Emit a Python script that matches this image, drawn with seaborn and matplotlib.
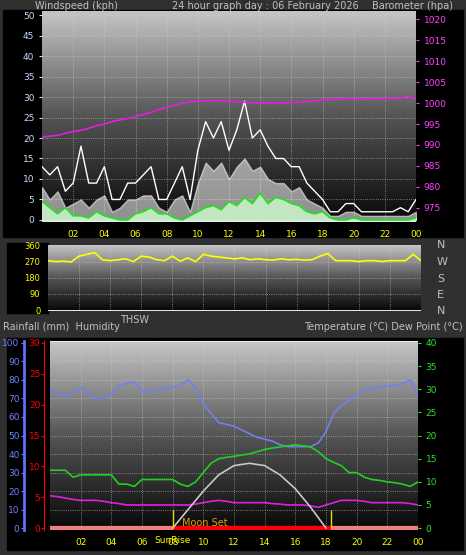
import numpy as np
import pandas as pd
import matplotlib
matplotlib.use("Agg")
import matplotlib.pyplot as plt
import seaborn as sns
from matplotlib.patches import Rectangle
from matplotlib.colors import LinearSegmentedColormap

sns.set_style("dark")
plt.rcParams['font.family'] = ['DejaVu Sans']

# ---- data (hours 0..24) ----
half_hours = np.arange(0, 24.5, 0.5)
gust = [13, 11, 13, 7, 9, 18, 9, 9, 13, 5, 5, 9, 9, 11, 13, 5, 5, 9, 13, 5,
        17, 24, 20, 24, 17, 22, 29, 20, 22, 18, 15, 15, 13, 13, 9, 7, 5, 2, 2, 4,
        4, 2, 2, 2, 2, 2, 3, 2, 5]
speed = [8, 5, 7, 3, 4, 5, 3, 5, 6, 2, 3, 5, 5, 6, 6, 3, 2, 5, 6, 2,
         9, 14, 12, 14, 10, 13, 15, 12, 13, 10, 9, 9, 7, 8, 5, 4, 3, 1, 1, 2,
         2, 1, 1, 1, 1, 1, 1, 1, 2]
avg_wind = [4.5, 3, 1.5, 3, 1, 1, 0.5, 2, 1, 0.5, 0, 0, 1.5, 2, 3, 1.5, 1.5, 0.5, 0, 1,
            2, 3, 3.5, 2.5, 4.5, 3.5, 5.5, 4, 6.5, 4, 5.5, 5, 4, 3.5, 2, 1.5, 2, 0.5, 0, 0,
            0.5, 0, 0, 0, 0, 0, 0, 0, 0.5]
baro = [991.9, 992.1, 992.3, 992.8, 993.2, 993.5, 994.0, 994.6, 995.0, 995.6,
        996.0, 996.3, 996.8, 997.3, 997.8, 998.5, 999.0, 999.5, 1000.0, 1000.3,
        1000.5, 1000.5, 1000.6, 1000.6, 1000.5, 1000.3, 1000.2, 1000.1, 1000.0, 1000.1,
        1000.0, 1000.0, 1000.1, 1000.2, 1000.4, 1000.5, 1000.7, 1000.9, 1001.0, 1001.1,
        1001.1, 1001.0, 1001.0, 1001.0, 1001.1, 1001.1, 1001.2, 1001.7, 1001.0]
wind_dir = [275, 270, 272, 268, 300, 310, 320, 280, 275, 280, 285, 270, 300, 295, 280, 275,
            300, 272, 290, 270, 310, 300, 295, 290, 285, 290, 280, 285, 280, 278, 285, 280,
            282, 278, 280, 300, 315, 275, 275, 275, 270, 275, 275, 270, 275, 275, 275, 310, 275]
humidity = [75, 72, 71, 73, 76, 72, 70, 70, 72, 77, 78, 79, 74, 74, 75, 75, 76, 77, 80, 76,
            67, 62, 57, 56, 55, 53, 51, 49, 48, 47, 45, 44, 44, 44, 44, 46, 52, 62, 66, 69,
            72, 75, 75, 76, 77, 77, 78, 80, 72]
temperature = [12.5, 12.5, 12.5, 11, 11.5, 11.5, 11.5, 11.5, 11.5, 9.5, 9.5, 9, 10.5, 10.5, 10.5, 10.5,
               10.5, 9.5, 9, 10, 12, 14, 15, 15.3, 15.5, 15.8, 16, 16.5, 17, 17.3, 17.5, 17.8,
               18, 17.8, 17.5, 16.5, 15, 14.2, 13.5, 12, 12, 11, 10.5, 10.3, 10, 9.8, 9.5, 9, 10]
dew_point = [7, 6.8, 6.5, 6.2, 6, 6, 6, 5.8, 5.5, 5.3, 5, 5, 5, 5, 5, 5, 5, 5, 5, 5.2,
             5.5, 5.8, 6, 5.8, 5.5, 5.5, 5.5, 5.5, 5.5, 5.3, 5.2, 5, 5, 5, 4.8, 4.5, 5, 5.5, 6, 6,
             6, 5.8, 5.5, 5.5, 5.5, 5.5, 5.5, 5.3, 5]
solar_hours = [8, 9, 10, 11, 12, 13, 14, 15, 16, 17, 18]
solar = [0, 4, 8, 11.5, 13.5, 14, 13.5, 11.5, 8.5, 4.5, 0]
sunrise, sunset = 8.0, 18.3
hour_ticks = [2, 4, 6, 8, 10, 12, 14, 16, 18, 20, 22, 24]
hour_labels = ['02', '04', '06', '08', '10', '12', '14', '16', '18', '20', '22', '00']

W, H = 466, 555
fig = plt.figure(figsize=(W / 100, H / 100), dpi=100)
fig.patch.set_facecolor('#303030')
bg_cmap = LinearSegmentedColormap.from_list('bg', ['#0a0a0a', '#555555', '#c4c4c4'])
FS = 6.5


def px_axes(x0, y0, x1, y1):
    return fig.add_axes([x0 / W, 1 - y1 / H, (x1 - x0) / W, (y1 - y0) / H])


def black_box(x0, y0, x1, y1):
    fig.patches.append(Rectangle((x0 / W, 1 - y1 / H), (x1 - x0) / W, (y1 - y0) / H,
                                 transform=fig.transFigure, color='black', zorder=-1))


def gradient(ax, ylo, yhi):
    ax.imshow(np.linspace(0, 1, 100)[:, None], extent=(0, 24, ylo, yhi), origin='lower',
              aspect='auto', cmap=bg_cmap, zorder=0)
    ax.grid(True, color='#d0d0d0', ls=':', lw=0.6, alpha=0.7)
    for s in ax.spines.values():
        s.set_visible(False)


def xhours(ax, show=True):
    ax.set_xlim(0, 24)
    ax.set_xticks(hour_ticks)
    ax.set_xticklabels(hour_labels if show else [], color='yellow', fontsize=FS)
    ax.tick_params(axis='x', colors='yellow', length=2)


# ---- top panel: wind and barometer ----
black_box(3, 10, 463, 237)
ax1 = px_axes(42, 11, 416, 222)
gradient(ax1, 0, 51)
ax1.set_ylim(-0.5, 51)
df_w = pd.DataFrame({'h': half_hours, 'gust': gust, 'speed': speed, 'avg': avg_wind})
ax1.fill_between(df_w.h, 0, df_w.speed, color='white', alpha=0.55, zorder=2)
ax1.fill_between(df_w.h, 0, df_w.avg, color='#c8f0c8', alpha=0.9, zorder=3)
sns.lineplot(data=df_w, x='h', y='gust', color='white', lw=1, ax=ax1, zorder=3)
sns.lineplot(data=df_w, x='h', y='avg', color='#20e020', lw=1.2, ax=ax1, zorder=4)
ax1.set_yticks(range(0, 51, 5))
ax1.tick_params(axis='y', colors='#c8dcff', labelsize=FS, length=2)
xhours(ax1)
ax1.set_xlabel('')
ax1.set_ylabel('')
ax1b = ax1.twinx()
ax1b.set_ylim(971.6, 1022)
sns.lineplot(x=half_hours, y=baro, color='#e020e0', lw=1.2, ax=ax1b)
ax1b.set_yticks(range(975, 1021, 5))
ax1b.tick_params(axis='y', colors='#ff40ff', labelsize=FS, length=2)
for s in ax1b.spines.values():
    s.set_visible(False)
fig.text(35 / W, 1 - 6 / H, 'Windspeed (kph)', color='#c0c0c0', fontsize=7, va='center')
fig.text(172 / W, 1 - 6 / H, '24 hour graph day : 06 February 2026', color='#c0c0c0', fontsize=7, va='center')
fig.text(372 / W, 1 - 6 / H, 'Barometer (hpa)', color='#c0c0c0', fontsize=7, va='center')

# ---- middle panel: wind direction ----
black_box(7, 243, 48, 313)
ax2 = px_axes(48, 245, 421, 311)
gradient(ax2, 0, 360)
ax2.set_ylim(-5, 362)
sns.lineplot(x=half_hours, y=wind_dir, color='yellow', lw=1.2, ax=ax2, zorder=3)
ax2.set_yticks([0, 90, 180, 270, 360])
ax2.tick_params(axis='y', colors='yellow', labelsize=FS - 0.5, length=2)
xhours(ax2, show=False)
ax2.tick_params(axis='x', length=0)
for lab, y in zip(['N', 'W', 'S', 'E', 'N'], [245, 262, 279, 295, 311]):
    fig.text(437 / W, 1 - y / H, lab, color='#c0c0c0', fontsize=8, va='center')
fig.text(3 / W, 1 - 327 / H, 'Rainfall (mm)  Humidity', color='#c0c0c0', fontsize=7, va='center')
fig.text(120 / W, 1 - 320 / H, 'THSW', color='#c0c0c0', fontsize=7, va='center')
fig.text(463 / W, 1 - 327 / H, 'Temperature (\u00b0C) Dew Point (\u00b0C)', color='#c0c0c0',
         fontsize=7, va='center', ha='right')

# ---- bottom panel: humidity, temperature, rain ----
black_box(7, 338, 463, 550)
ax3 = px_axes(50, 341, 418, 530)
gradient(ax3, 0, 100)
ax3.set_ylim(-1, 101)
xhours(ax3)
df_t = pd.DataFrame({'h': half_hours, 'hum': humidity})
sns.lineplot(data=df_t, x='h', y='hum', color='#7080f0', lw=1.2, ax=ax3, zorder=3)
ax3.set_xlabel('')
ax3.set_ylabel('')
ax3.set_yticks(range(0, 101, 10))
ax3.tick_params(axis='y', colors='#7080ff', labelsize=FS, length=2, pad=1)
ax3.spines['left'].set_visible(True)
ax3.spines['left'].set_position(('outward', 19))
ax3.spines['left'].set_color('#6070ff')
ax3.spines['left'].set_linewidth(2)

ax3r = ax3.twinx()
ax3r.set_ylim(-0.3, 30.3)
ax3r.yaxis.tick_left()
ax3r.set_yticks(range(0, 31, 5))
ax3r.tick_params(axis='y', colors='red', labelsize=FS, length=2, pad=1)
for s in ax3r.spines.values():
    s.set_visible(False)
ax3r.spines['left'].set_visible(True)
ax3r.spines['left'].set_color('red')
ax3r.spines['left'].set_position(('outward', 4))
ax3r.hlines(0, 0, 24, color='#f08080', lw=3, zorder=3)
ax3r.hlines(0, sunrise, sunset, color='red', lw=3, zorder=4)

ax3t = ax3.twinx()
ax3t.set_ylim(-0.4, 40.4)
ax3t.set_yticks(range(0, 41, 5))
ax3t.tick_params(axis='y', colors='#30e030', labelsize=FS, length=2)
for s in ax3t.spines.values():
    s.set_visible(False)
sns.lineplot(x=half_hours, y=temperature, color='#20d020', lw=1.2, ax=ax3t)
sns.lineplot(x=half_hours, y=dew_point, color='#e020e0', lw=1.2, ax=ax3t)
sns.lineplot(x=solar_hours, y=solar, color='#c8c8c8', lw=1.2, ax=ax3t)
ax3t.vlines([sunrise, sunset], 0, 4, color='#e0e000', lw=1)
ax3t.text(sunrise + 0.6, 0.4, 'Moon Set', color='#e0a000', fontsize=7)
ax3.text(sunrise, -0.03, 'SunRise', transform=ax3.get_xaxis_transform(), color='yellow',
         fontsize=FS, ha='center', va='top')

fig.savefig('out.png', dpi=100, facecolor=fig.get_facecolor())
